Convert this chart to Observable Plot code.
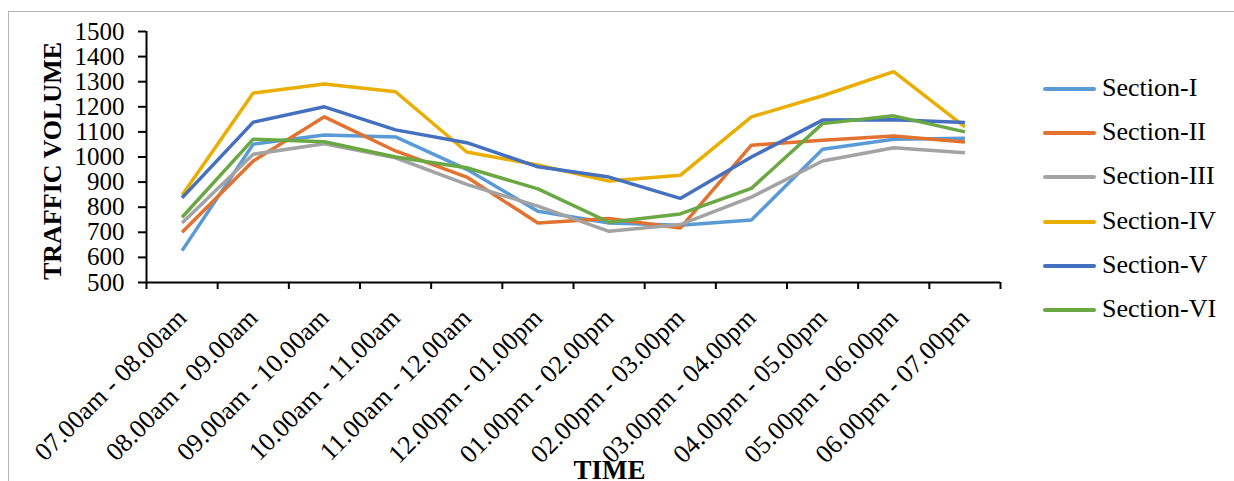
<!DOCTYPE html>
<html>
<head>
<meta charset="utf-8">
<script src="https://cdn.jsdelivr.net/npm/d3@7"></script>
<script src="https://cdn.jsdelivr.net/npm/@observablehq/plot@0.6"></script>
<style>
  html, body { margin: 0; padding: 0; background: #fff; }
  #wrap { position: relative; width: 1234px; height: 481px; overflow: hidden; font-family: "Liberation Serif", "Times New Roman", serif; }
  #border { position: absolute; left: 8px; top: 11px; width: 1400px; height: 600px; border-left: 1.5px solid #b4b4b4; border-top: 1.5px solid #b4b4b4; }
  #chart { position: absolute; left: 0; top: 0; }
  #chart svg, #chart svg text { font-family: "Liberation Serif", "Times New Roman", serif !important; }
  .leg { position: absolute; left: 1043px; height: 0; }
  .leg .sw { position: absolute; left: 0; top: -2px; width: 53px; height: 4px; border-radius: 2px; }
  .leg .lb { position: absolute; left: 59px; top: -16px; font-size: 26px; line-height: 30px; color: #000; white-space: nowrap; font-family: "Liberation Serif", serif; }
</style>
</head>
<body>
<div id="wrap">
  <div id="border"></div>
  <div id="chart"></div>
  <div id="legend"></div>
</div>
<script>
const categories = [
  "07.00am - 08.00am", "08.00am - 09.00am", "09.00am - 10.00am", "10.00am - 11.00am",
  "11.00am - 12.00am", "12.00pm - 01.00pm", "01.00pm - 02.00pm", "02.00pm - 03.00pm",
  "03.00pm - 04.00pm", "04.00pm - 05.00pm", "05.00pm - 06.00pm", "06.00pm - 07.00pm"
];
const seriesNames = ["Section-I", "Section-II", "Section-III", "Section-IV", "Section-V", "Section-VI"];
const seriesColors = ["#5B9BD5", "#E2722F", "#A3A3A3", "#E9AE00", "#4470BF", "#6AA843"];

const sectionI   = [627, 1051, 1088, 1080, 951, 784, 737, 728, 749, 1031, 1071, 1075];
const sectionII  = [700, 984, 1160, 1024, 920, 737, 755, 717, 1047, 1067, 1084, 1060];
const sectionIII = [737, 1011, 1053, 997, 891, 804, 704, 731, 840, 984, 1037, 1017];
const sectionIV  = [848, 1255, 1291, 1260, 1020, 968, 904, 927, 1160, 1244, 1340, 1120];
const sectionV   = [837, 1139, 1200, 1108, 1057, 961, 920, 835, 1000, 1147, 1148, 1137];
const sectionVI  = [760, 1071, 1061, 1000, 957, 873, 740, 773, 875, 1133, 1164, 1100];

const yTicks = [500, 600, 700, 800, 900, 1000, 1100, 1200, 1300, 1400, 1500];
const yTitle = "TRAFFIC VOLUME";
const xTitle = "TIME";

const allSeries = [sectionI, sectionII, sectionIII, sectionIV, sectionV, sectionVI];
const rows = [];
allSeries.forEach((vals, s) => vals.forEach((v, i) => rows.push({series: seriesNames[s], i, value: v})));

const boundaries = d3.range(categories.length + 1).map(k => k - 0.5);
const centers = d3.range(categories.length);
const serif = "Liberation Serif";

const plot = Plot.plot({
  width: 1234,
  height: 481,
  marginLeft: 146,
  marginRight: 234,
  marginTop: 31,
  marginBottom: 199,
  style: {fontFamily: "'Liberation Serif', serif", background: "transparent", overflow: "visible"},
  x: {type: "linear", domain: [-0.5, categories.length - 0.5]},
  y: {domain: [500, 1500]},
  color: {domain: seriesNames, range: seriesColors},
  marks: [
    Plot.axisY(yTicks, {tickSize: 8, tickPadding: 14, fontSize: 25, fontFamily: serif, color: "#000", strokeWidth: 2,
      tickFormat: d3.format("d"), label: null}),
    Plot.axisX(boundaries, {tickSize: 7, tickFormat: () => "", color: "#000", strokeWidth: 2, label: null}),
    Plot.axisX(centers, {tickSize: 0, tickPadding: 31, tickRotate: -45, fontSize: 26, fontFamily: serif, color: "#000",
      tickFormat: i => categories[i], label: null}),
    Plot.ruleY([500], {stroke: "#000", strokeWidth: 2}),
    Plot.ruleX([-0.5], {stroke: "#000", strokeWidth: 2}),
    Plot.line(rows, {x: "i", y: "value", z: "series", stroke: "series", strokeWidth: 3.5,
      strokeLinejoin: "miter", strokeLinecap: "butt"}),
    Plot.text([yTitle], {frameAnchor: "left", dx: -94, dy: 4, rotate: -90, textAnchor: "middle",
      fontSize: 26, fontWeight: "bold", fontFamily: serif, fill: "#000"}),
    Plot.text([xTitle], {frameAnchor: "bottom", dx: 36, dy: 196, lineAnchor: "bottom", textAnchor: "middle",
      fontSize: 27, fontWeight: "bold", fontFamily: serif, fill: "#000"})
  ]
});
document.getElementById("chart").appendChild(plot);

const legendTops = [89, 133, 177, 222, 266, 310];
const legend = document.getElementById("legend");
seriesNames.forEach((name, k) => {
  const item = document.createElement("div");
  item.className = "leg";
  item.style.top = legendTops[k] + "px";
  const sw = document.createElement("div");
  sw.className = "sw";
  sw.style.background = seriesColors[k];
  const lb = document.createElement("div");
  lb.className = "lb";
  lb.textContent = name;
  item.appendChild(sw);
  item.appendChild(lb);
  legend.appendChild(item);
});
</script>
</body>
</html>
